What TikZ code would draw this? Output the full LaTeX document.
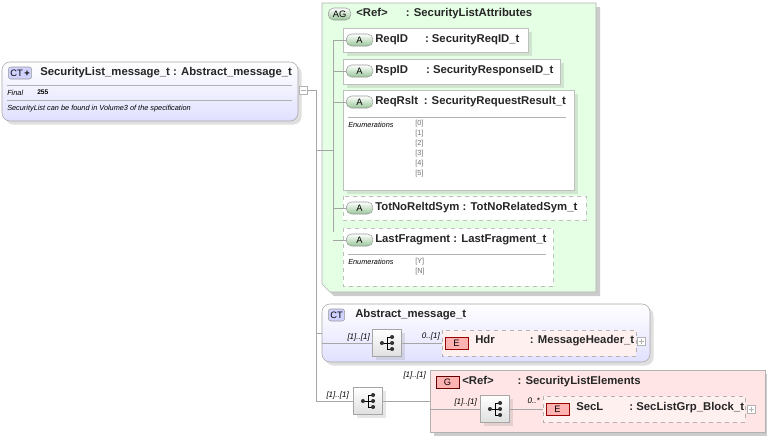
\documentclass[tikz,border=0pt]{standalone}
\usepackage{fontspec}
\setmainfont{Liberation Sans}
\usetikzlibrary{shadows}
\begin{document}
\begin{tikzpicture}[x=0.75pt,y=-0.75pt,
  conn/.style={draw=gray!70, line width=0.6pt},
  ttl/.style={anchor=west, inner sep=0pt, font=\bfseries\fontsize{8.5}{9}\selectfont, text=black!85},
  small/.style={anchor=west, inner sep=0pt, font=\itshape\fontsize{5.5}{6}\selectfont},
  enum/.style={inner sep=0pt, font=\fontsize{5.5}{7.5}\selectfont, text=gray!90!black, align=left},
  mult/.style={anchor=east, inner sep=0pt, font=\itshape\fontsize{6}{7}\selectfont},
  ctbox/.style={draw=gray!70, rounded corners=6pt, top color=white, bottom color=blue!12, drop shadow={opacity=0.25}},
  attr/.style={draw=gray!50, fill=white, drop shadow={opacity=0.2}},
  dattr/.style={draw=gray!50, dashed, fill=white},
  ebox/.style={draw=gray!60, dashed, fill=red!6},
  badge/.style={draw=gray!80, rounded corners=2pt, inner sep=1.5pt, font=\fontsize{7}{8}\selectfont, minimum height=9pt},
  abadge/.style={badge, top color=white, bottom color=green!45!black!40, rounded corners=4pt, minimum width=20pt},
  ctbadge/.style={badge, fill=blue!18},
  ebadge/.style={badge, draw=red!60!black, fill=red!30, rounded corners=0pt, minimum width=17pt},
  seqbox/.style={draw=gray!70, top color=white, bottom color=gray!25, minimum width=22pt, minimum height=20pt, drop shadow={opacity=0.2}},
  pm/.style={draw=gray!60, fill=white, minimum size=6pt, inner sep=0pt},
  dot/.style={circle, fill=black!80, inner sep=0pt, minimum size=3pt}
]
\newcommand\seqicon[1]{%
  \draw[line width=0.6pt] ([xshift=-3.5pt]#1.center) -- (#1.center)
    ([yshift=4.5pt]#1.center) -- ([yshift=-4.5pt]#1.center)
    ([yshift=4.5pt]#1.center) -- ([xshift=3.5pt,yshift=4.5pt]#1.center)
    (#1.center) -- ([xshift=3.5pt]#1.center)
    ([yshift=-4.5pt]#1.center) -- ([xshift=3.5pt,yshift=-4.5pt]#1.center);
  \node[dot] at ([xshift=-3.8pt]#1.center) {};
  \node[dot] at ([xshift=3.8pt,yshift=4.5pt]#1.center) {};
  \node[dot] at ([xshift=3.8pt]#1.center) {};
  \node[dot] at ([xshift=3.8pt,yshift=-4.5pt]#1.center) {};}
\useasboundingbox (0,0) rectangle (767,437);

% main complex type
\draw[ctbox] (2,62) rectangle (298,121);
\node[ctbadge, anchor=west] (ctm) at (8,73) {CT\,\textbf{+}};
\node[ttl] (mt) at (40,73) {SecurityList\_message\_t : Abstract\_message\_t};
\draw[gray!60] (7,85) -- (292,85) (7,100) -- (292,100);
\node[small] at (7,92.5) {Final};
\node[anchor=west, inner sep=0pt, font=\bfseries\fontsize{5}{6}\selectfont] at (37,92.5) {255};
\node[small] at (7,108.5) {SecurityList can be found in Volume3 of the specification};
\node[pm] (mm) at (303,90) {};
\draw[gray!60] (300.5,90) -- (305.5,90);

% attribute group
\fill[gray!40] (326,7) -- (600,7) -- (600,296) -- (334,296) -- (326,288) -- cycle;
\draw[draw=gray!60, fill=green!10] (322,3) -- (596,3) -- (596,292) -- (330,292) -- (322,284) -- cycle;
\node[abadge, anchor=west, minimum width=17pt] (ag) at (328,14) {AG};
\node[ttl] at (356,14) {<Ref>\hspace{1.6em}: SecurityListAttributes};
\coordinate (agin) at (322,150);

\draw[attr] (343,28) rectangle (528,52);
\node[abadge, anchor=west] (a1) at (346,40) {A};
\node[ttl] at (375,40) {ReqID\hspace{1.5em}: SecurityReqID\_t};
\draw[attr] (343,59) rectangle (560,84);
\node[abadge, anchor=west] (a2) at (346,71) {A};
\node[ttl] at (375,71) {RspID\hspace{1.6em}: SecurityResponseID\_t};
\draw[attr] (343,90) rectangle (574,190);
\node[abadge, anchor=west] (a3) at (346,102) {A};
\node[ttl] at (375,102) {ReqRslt\hspace{0.5em}: SecurityRequestResult\_t};
\draw[gray!60] (348,117) -- (566,117);
\node[small] at (348,125) {Enumerations};
\node[enum, anchor=north west] at (415,120) {{[0]}\\{[1]}\\{[2]}\\{[3]}\\{[4]}\\{[5]}};
\draw[dattr] (343,196) rectangle (586,220);
\node[abadge, anchor=west] (a4) at (346,208) {A};
\node[ttl] at (375,208) {TotNoReltdSym : TotNoRelatedSym\_t};
\draw[dattr] (343,228) rectangle (553,286);
\node[abadge, anchor=west] (a5) at (346,240) {A};
\node[ttl] at (375,240) {LastFragment : LastFragment\_t};
\draw[gray!60] (348,254) -- (546,254);
\node[small] at (348,262) {Enumerations};
\node[enum, anchor=north west] at (415,258) {{[Y]}\\{[N]}};
\draw[conn] (333,40) -- (333,232);
\foreach \n in {a1,a2,a3,a4,a5} \draw[conn] (333,0 |- \n.west) -- (\n.west);
\draw[conn] (agin) -- (333,150);

% abstract message
\draw[ctbox] (322,304) rectangle (650,362);
\node[ctbadge, anchor=west] (ct2) at (328,315) {CT};
\node[ttl] at (355,315) {Abstract\_message\_t};
\coordinate (ctin) at (322,333);
\node[seqbox] (s1) at (387,343) {};
\seqicon{s1}
\draw[conn] (322,343) -- (s1.west);
\node[mult] at (370,337) {[1]..[1]};
\draw[ebox] (442,330) rectangle (636,356);
\node[ebadge, anchor=west] (e1) at (445,343) {E};
\node[ttl] at (475,341) {Hdr\hspace{3.1em}: MessageHeader\_t};
\coordinate (e1in) at (442,343);
\draw[conn] (s1.east) -- (e1in);
\node[mult] at (440,336) {0..[1]};
\node[pm] at (641,341) {}; \draw[gray!60] (638.5,341) -- (643.5,341) (641,338.5) -- (641,343.5);

% sequence + group
\node[seqbox] (s2) at (368,401) {};
\seqicon{s2}
\node[mult] at (349,395) {[1]..[1]};
\fill[gray!40] (434,374) rectangle (769,436);
\draw[draw=gray!60, fill=red!10] (430,370) rectangle (765,432);
\node[mult] at (426,375) {[1]..[1]};
\node[ebadge, anchor=west, draw=red!40!black] (g) at (436,382) {G};
\node[ttl] at (462,382) {<Ref>\hspace{2.1em}: SecurityListElements};
\coordinate (gin) at (430,401);
\draw[conn] (s2.east) -- (gin);
\node[seqbox] (s3) at (495,409) {};
\seqicon{s3}
\draw[conn] (430,409) -- (s3.west);
\node[mult] at (477,402) {[1]..[1]};
\draw[ebox] (543,396) rectangle (745,422);
\node[ebadge, anchor=west] (e2) at (546,409) {E};
\node[ttl] at (576,408) {SecL\hspace{2.3em}: SecListGrp\_Block\_t};
\coordinate (e2in) at (543,409);
\draw[conn] (s3.east) -- (e2in);
\node[mult] at (540,401) {0..*};
\node[pm] at (751,409) {}; \draw[gray!60] (748.5,409) -- (753.5,409) (751,406.5) -- (751,411.5);

% trunk
\coordinate (tr) at (316,90);
\draw[conn] (mm.east) -- (tr) -- (316,401) -- (s2.west);
\draw[conn] (316,150) -- (agin);
\draw[conn] (316,333) -- (ctin);
\end{tikzpicture}
\end{document}
